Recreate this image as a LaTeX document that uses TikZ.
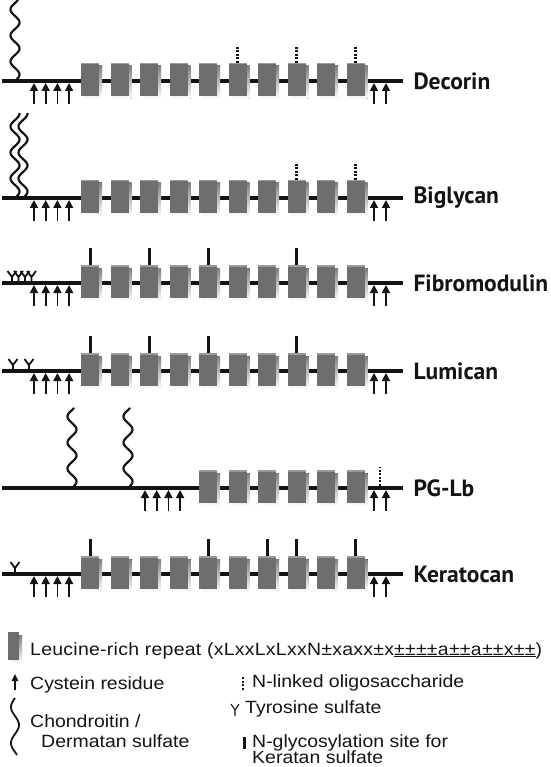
\documentclass[tikz,border=0pt]{standalone}
\usepackage{fontspec}
\usetikzlibrary{arrows.meta}
\newfontfamily\tagfont{PT Sans}
\newfontfamily\keyfont{Liberation Sans}[FakeStretch=1.1]
\definecolor{ink}{HTML}{141414}
\definecolor{face}{HTML}{6E6E6E}
\definecolor{shade}{HTML}{2A2A2A}
\newcommand{\TagF}{\fontsize{23.5}{27}\selectfont\tagfont\bfseries}
\newcommand{\KeyF}{\fontsize{17.7}{21}\selectfont\keyfont}
\tikzset{
  chain/.style={draw=ink, line width=4.3pt},
  cysarrow/.style={draw=ink, fill=ink, line width=1.8pt, -{Triangle[width=8pt,length=8pt]}},
  nlinked/.style={draw=ink, line width=2.4pt, dash pattern=on 2pt off 1.6pt},
  ksbar/.style={draw=ink, line width=3pt},
  tysul/.style={draw=ink, line width=1.8pt},
  gag/.style={draw=ink, line width=2.2pt},
}
% repeat box: left x, line y
\newcommand{\lrr}[2]{%
  \fill[shade] (#1+3,#2-15) rectangle (#1+21,#2+18);
  \fill[face] (#1,#2-18) rectangle (#1+18,#2+15);
  \fill[face!70!white] (#1,#2-18) rectangle (#1+18,#2-16.5);
}
% backbone: line y, first box, name
\newcommand{\backbone}[3]{%
  \draw[chain] (2,#1) -- (403,#1);
  \foreach \i in {#2,...,9} {\lrr{81+29.5*\i}{#1}}
  \node[anchor=west, font=\TagF, text=ink] at (410,#1) {#3};
}
\newcommand{\cys}[2]{\draw[cysarrow] (#1,#2+23) -- (#1,#2+2);}
\newcommand{\cysleft}[2]{\foreach \k in {0,...,3} {\cys{#1+11.7*\k}{#2}}}
\newcommand{\cysright}[1]{\cys{374}{#1}\cys{386}{#1}}
% box index, line y
\newcommand{\nlink}[2]{\draw[nlinked] (90+29.5*#1,#2-18) -- (90+29.5*#1,#2-36);}
\newcommand{\ks}[2]{\draw[ksbar] (90+29.5*#1,#2-18) -- (90+29.5*#1,#2-35);}
\newcommand{\tys}[2]{\draw[tysul] (#1,#2-2) -- (#1,#2-6) -- (#1-4.5,#2-12) (#1,#2-6) -- (#1+4.5,#2-12);}
% foot x, line y, length
\newcommand{\gag}[3]{\draw[gag] plot[domain=0:#3, samples=70, smooth, variable=\t] ({#1+4.5*sin(13.85*\t)}, {#2-\t});}

\begin{document}
\begin{tikzpicture}[x=1pt,y=-1pt]
\useasboundingbox (0,0) rectangle (550,767);

% Decorin
\backbone{81}{0}{Decorin}
\gag{15}{81}{81}
\cysleft{34}{81} \cysright{81}
\foreach \i in {5,7,9} {\nlink{\i}{81}}

% Biglycan
\backbone{198}{0}{Biglycan}
\gag{15}{198}{85} \gag{23}{198}{85}
\cysleft{34}{198} \cysright{198}
\foreach \i in {7,9} {\nlink{\i}{198}}

% Fibromodulin
\backbone{283}{0}{Fibromodulin}
\foreach \x in {12,18.5,25,31.5} {\tys{\x}{283}}
\cysleft{34}{283} \cysright{283}
\foreach \i in {0,2,4,7} {\ks{\i}{283}}

% Lumican
\backbone{371}{0}{Lumican}
\tys{13}{371} \tys{29}{371}
\cysleft{34}{371} \cysright{371}
\foreach \i in {0,2,4,7} {\ks{\i}{371}}

% PG-Lb
\backbone{488}{4}{PG-Lb}
\gag{72}{488}{80} \gag{128}{488}{80}
\cysleft{145}{488} \cysright{488}
\draw[nlinked] (380,486) -- (380,467);

% Keratocan
\backbone{574}{0}{Keratocan}
\tys{15}{574}
\cysleft{34}{574} \cysright{574}
\foreach \i in {0,4,6,7,9} {\ks{\i}{574}}

% key
\fill[shade] (11,635) rectangle (22,663);
\fill[face] (8,632) rectangle (19,660);
\draw[cysarrow, line width=1.5pt, -{Triangle[width=6.5pt,length=7pt]}] (15,690) -- (15,674);
\draw[gag, line width=1.8pt] plot[domain=0:57, samples=60, smooth, variable=\t] ({15-4*sin(10*\t)}, {698+\t});
\draw[nlinked, line width=2pt] (243,690) -- (243,677);
\draw[tysul, line width=1.1pt] (235,716) -- (235,710) -- (231,704) (235,710) -- (239,704);
\draw[ksbar] (244,749) -- (244,737);
\node[anchor=base west, font=\KeyF, text=ink, inner sep=0pt] at (30,655) {\addfontfeature{LetterSpace=1.5}Leucine-rich repeat (xLxxLxLxxN±xaxx±x\underline{±±±±a±±a±±x±±})};
\node[anchor=base west, font=\KeyF, text=ink, inner sep=0pt] at (30,689) {Cystein residue};
\node[anchor=base west, font=\KeyF, text=ink, inner sep=0pt] at (30,727) {Chondroitin /};
\node[anchor=base west, font=\KeyF, text=ink, inner sep=0pt] at (41,747) {Dermatan sulfate};
\node[anchor=base west, font=\KeyF, text=ink, inner sep=0pt] at (252,687) {N-linked oligosaccharide};
\node[anchor=base west, font=\KeyF, text=ink, inner sep=0pt] at (245,713) {Tyrosine sulfate};
\node[anchor=base west, font=\KeyF, text=ink, inner sep=0pt] at (252,747) {N-glycosylation site for};
\node[anchor=base west, font=\KeyF, text=ink, inner sep=0pt] at (252,763) {Keratan sulfate};
\end{tikzpicture}
\end{document}
